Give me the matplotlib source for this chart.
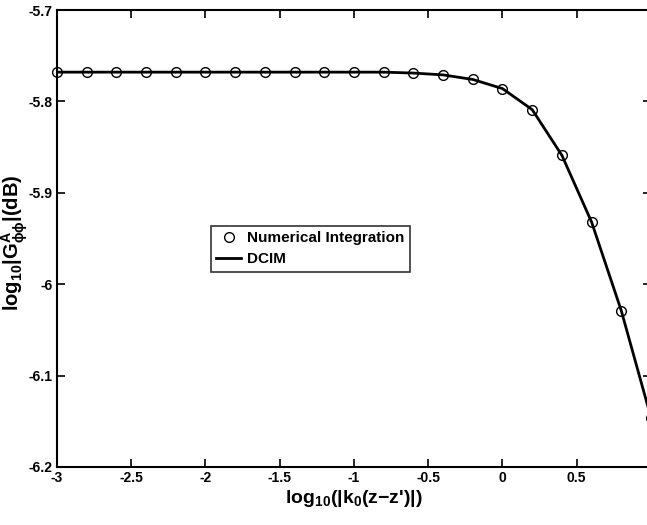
import matplotlib
matplotlib.use("Agg")
import matplotlib.pyplot as plt

# log10|k0(z-z')| sample points and the Green's function magnitude
x_vals = [-3.0, -2.8, -2.6, -2.4, -2.2, -2.0, -1.8, -1.6, -1.4, -1.2, -1.0,
          -0.8, -0.6, -0.4, -0.2, 0.0, 0.2, 0.4, 0.6, 0.8, 1.0]
numerical = [-5.768, -5.768, -5.768, -5.768, -5.768, -5.768, -5.768, -5.768,
             -5.768, -5.768, -5.768, -5.768, -5.769, -5.771, -5.776, -5.786,
             -5.809, -5.859, -5.932, -6.029, -6.146]
dcim = [-5.768, -5.768, -5.768, -5.768, -5.768, -5.768, -5.768, -5.768,
        -5.768, -5.768, -5.768, -5.768, -5.769, -5.771, -5.776, -5.786,
        -5.809, -5.859, -5.932, -6.029, -6.146]

x_ticks = [-3, -2.5, -2, -1.5, -1, -0.5, 0, 0.5]
x_tick_labels = ["-3", "-2.5", "-2", "-1.5", "-1", "-0.5", "0", "0.5"]
y_ticks = [-6.2, -6.1, -6.0, -5.9, -5.8, -5.7]
y_tick_labels = ["-6.2", "-6.1", "-6", "-5.9", "-5.8", "-5.7"]

plt.rcParams["font.family"] = ["Liberation Sans", "DejaVu Sans"]
plt.rcParams["font.weight"] = "bold"
plt.rcParams["mathtext.fontset"] = "custom"
plt.rcParams["mathtext.rm"] = "Liberation Sans:bold"
plt.rcParams["mathtext.it"] = "Liberation Sans:bold"
plt.rcParams["mathtext.bf"] = "Liberation Sans:bold"

W, H = 647, 525
fig = plt.figure(figsize=(W / 100, H / 100), dpi=100)
ax_left, ax_right, ax_top, ax_bottom = 57, 651, 10, 467
ax = fig.add_axes([ax_left / W, (H - ax_bottom) / H,
                   (ax_right - ax_left) / W, (ax_bottom - ax_top) / H])

ax.plot(x_vals, dcim, color="black", lw=2.0, label="DCIM", zorder=2)
ax.plot(x_vals, numerical, linestyle="none", marker="o", ms=7,
        mfc="none", mec="black", mew=1.0, label="Numerical Integration",
        zorder=3, clip_on=False)

ax.set_xlim(-3, 1)
ax.set_ylim(-6.2, -5.7)
ax.set_xticks(x_ticks)
ax.set_xticklabels(x_tick_labels)
ax.set_yticks(y_ticks)
ax.set_yticklabels(y_tick_labels)
ax.tick_params(direction="in", length=6, width=1.2, top=True, right=True,
               labelsize=10, pad=3)
for lab in ax.get_xticklabels() + ax.get_yticklabels():
    lab.set_fontweight("bold")
for sp in ax.spines.values():
    sp.set_linewidth(1.5)

ax.set_xlabel(r"log$_{10}$(|k$_0$(z$-$z')|)", fontsize=14, fontweight="bold",
              labelpad=2)
ax.set_ylabel(r"log$_{10}$|G$^{A}_{\phi\phi}$|(dB)", fontsize=14.5,
              fontweight="bold")
ax.yaxis.set_label_coords((30 - ax_left) / (ax_right - ax_left), 0.49)

handles, labels = ax.get_legend_handles_labels()
leg = ax.legend(handles[::-1], labels[::-1], loc="upper left",
                bbox_to_anchor=((211 - ax_left) / (ax_right - ax_left),
                                (ax_bottom - 226) / (ax_bottom - ax_top)),
                frameon=True, fancybox=False, edgecolor="black",
                fontsize=11, handlelength=1.6, borderpad=0.35,
                labelspacing=0.45, handletextpad=0.4, borderaxespad=0)
leg.get_frame().set_linewidth(1.2)
for t in leg.get_texts():
    t.set_fontweight("bold")

fig.savefig("out.png", dpi=100)
